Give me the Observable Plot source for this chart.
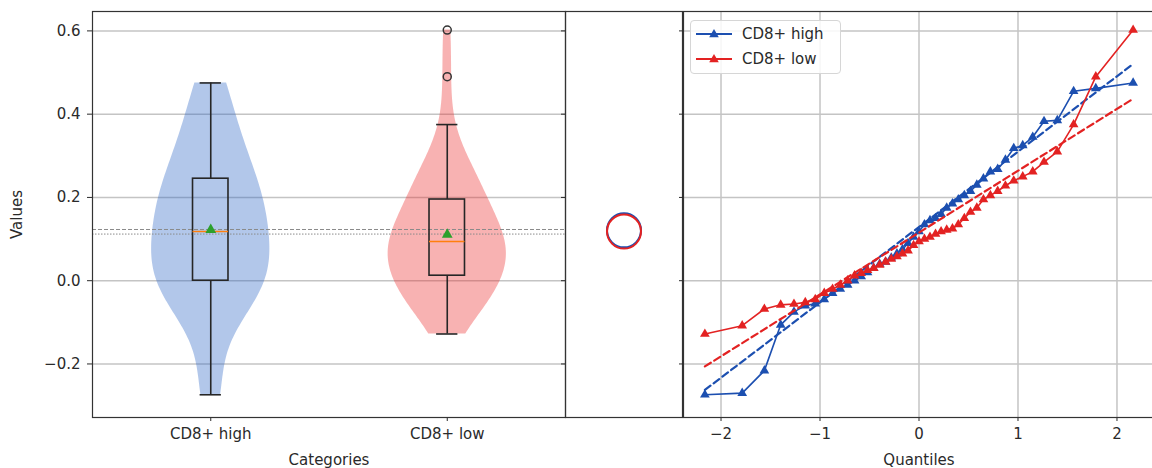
<!DOCTYPE html>
<html>
<head>
<meta charset="utf-8">
<script src="https://cdn.jsdelivr.net/npm/d3@7"></script>
<script src="https://cdn.jsdelivr.net/npm/@observablehq/plot@0.6"></script>
<style>
  body { margin: 0; background: #fff; font-family: "DejaVu Sans", sans-serif; }
  #wrap { position: relative; width: 1152px; height: 468px; overflow: hidden; background: #fff; }
  .legend { position: absolute; left: 690px; top: 20px; width: 149px; height: 52px;
    border: 1px solid #d6d6d6; border-radius: 4px; background: rgba(255,255,255,0.85);
    font-family: "DejaVu Sans", sans-serif; font-size: 15px; color: #2a2a2a; }
  .legend .row { position: absolute; left: 4px; height: 20px; display: flex; align-items: center; }
  .legend .row span { margin-left: 9px; }
</style>
</head>
<body>
<div id="wrap"></div>
<script>
// ---------- data ----------
const categories = ["CD8+ high", "CD8+ low"];
const quantiles = [-2.163, -1.786, -1.562, -1.397, -1.263, -1.149, -1.048, -0.957, -0.873, -0.795, -0.721,
  -0.651, -0.584, -0.520, -0.458, -0.397, -0.338, -0.280, -0.223, -0.167, -0.111, -0.055, 0,
  0.055, 0.111, 0.167, 0.223, 0.280, 0.338, 0.397, 0.458, 0.520, 0.584, 0.651, 0.721, 0.795,
  0.873, 0.957, 1.048, 1.149, 1.263, 1.397, 1.562, 1.786, 2.163];
const cd8High = [-0.274, -0.270, -0.216, -0.106, -0.075, -0.060, -0.055, -0.045, -0.030, -0.020, -0.010,
  0.000, 0.010, 0.020, 0.030, 0.040, 0.045, 0.055, 0.065, 0.075, 0.090, 0.105,
  0.118, 0.135, 0.145, 0.150, 0.160, 0.175, 0.185, 0.195, 0.205, 0.215, 0.230, 0.245,
  0.262, 0.268, 0.290, 0.318, 0.325, 0.345, 0.383, 0.385, 0.455, 0.462, 0.475];
const cd8Low = [-0.128, -0.108, -0.068, -0.058, -0.056, -0.052, -0.045, -0.030, -0.020, -0.010,
  0.000, 0.012, 0.018, 0.025, 0.030, 0.038, 0.045, 0.052, 0.058, 0.065, 0.072, 0.085,
  0.094, 0.100, 0.105, 0.112, 0.118, 0.122, 0.125, 0.135, 0.150, 0.165, 0.175, 0.195, 0.205,
  0.215, 0.228, 0.240, 0.250, 0.262, 0.285, 0.310, 0.375, 0.490, 0.602];
const meanLineValues = [0.123, 0.112];
const circleValues = [0.121, 0.118];
const fitSlope = [0.181, 0.1486];
const fitIntercept = [0.129, 0.1155];
const yTicks = [-0.2, 0, 0.2, 0.4, 0.6];
const yTickLabels = ["\u22120.2", "0.0", "0.2", "0.4", "0.6"];
const qTicks = [-2, -1, 0, 1, 2];
const qTickLabels = ["\u22122", "\u22121", "0", "1", "2"];
const seriesColors = ["#1c4fb0", "#e32222"];
const violinColors = ["#2a64c4", "#ec2a2a"];
const yDomain = [-0.3286, 0.6466];

// ---------- derived ----------
const groups = [cd8High, cd8Low];
const stats = groups.map((vals, i) => {
  const s = vals.slice().sort(d3.ascending);
  const q1 = d3.quantile(s, 0.25), med = d3.quantile(s, 0.5), q3 = d3.quantile(s, 0.75);
  const iqr = q3 - q1;
  const lo = d3.min(s.filter(v => v >= q1 - 1.5 * iqr));
  const hi = d3.max(s.filter(v => v <= q3 + 1.5 * iqr));
  return {cat: categories[i], pos: i + 1, q1, med, q3, lo, hi, mean: d3.mean(s),
          meanLine: meanLineValues[i], circle: circleValues[i],
          outliers: s.filter(v => v < lo || v > hi)};
});
const outlierRows = stats.flatMap(s => s.outliers.map(v => ({pos: s.pos, v})));

function violin(vals, pos) {
  const bw = d3.deviation(vals) * Math.pow(vals.length, -0.2);
  const [lo, hi] = d3.extent(vals);
  const N = 160;
  const rows = d3.range(N).map(k => {
    const y = lo + (hi - lo) * k / (N - 1);
    return {y, d: d3.sum(vals, v => Math.exp(-0.5 * ((y - v) / bw) ** 2))};
  });
  const m = d3.max(rows, r => r.d);
  return rows.map(r => ({y: r.y, x1: pos - 0.25 * r.d / m, x2: pos + 0.25 * r.d / m}));
}
const violins = groups.map((g, i) => violin(g, i + 1));

const qqRows = groups.map((g, i) => g.map((v, k) => ({q: quantiles[k], v})));
const qExt = d3.extent(quantiles);
const fitRows = fitSlope.map((s, i) => qExt.map(q => ({q, v: fitIntercept[i] + s * q})));

// ---------- layout ----------
const wrap = document.getElementById("wrap");
const style = {fontFamily: "'DejaVu Sans', sans-serif", fontSize: "15px", color: "#2a2a2a",
               background: "transparent", overflow: "visible"};
function place(el, left) {
  el.style.position = "absolute"; el.style.left = left + "px"; el.style.top = "0px";
  wrap.appendChild(el);
}
const gridStyle = {stroke: "#c4c4c4", strokeOpacity: 1, strokeWidth: 1.5};
const boxStroke = {stroke: "#262626", strokeWidth: 1.6};

// Panel 1: violins + boxes
const p1 = Plot.plot({
  width: 565, height: 468, marginLeft: 92, marginRight: 0, marginTop: 11, marginBottom: 51,
  style,
  x: {domain: [0.5, 2.5]},
  y: {domain: yDomain},
  marks: [
    Plot.gridY(yTicks, gridStyle),
    ...violins.map((v, i) => Plot.areaX(v, {y: "y", x1: "x1", x2: "x2", fill: violinColors[i], fillOpacity: 0.36})),
    Plot.ruleY([stats[0]], {y: "meanLine", stroke: "#8a8a8a", strokeWidth: 1, strokeDasharray: "4,2"}),
    Plot.ruleY([stats[1]], {y: "meanLine", stroke: "#8a8a8a", strokeWidth: 1, strokeDasharray: "1.5,1.5"}),
    Plot.rect(stats, {x1: d => d.pos - 0.075, x2: d => d.pos + 0.075, y1: "q1", y2: "q3", fill: "none", ...boxStroke}),
    Plot.ruleX(stats, {x: "pos", y1: "q3", y2: "hi", ...boxStroke}),
    Plot.ruleX(stats, {x: "pos", y1: "lo", y2: "q1", ...boxStroke}),
    Plot.ruleY(stats, {y: "hi", x1: d => d.pos - 0.045, x2: d => d.pos + 0.045, ...boxStroke}),
    Plot.ruleY(stats, {y: "lo", x1: d => d.pos - 0.045, x2: d => d.pos + 0.045, ...boxStroke}),
    Plot.ruleY(stats, {y: "med", x1: d => d.pos - 0.075, x2: d => d.pos + 0.075, stroke: "#ff7f0e", strokeWidth: 1.6}),
    Plot.dot(stats, {x: "pos", y: "mean", symbol: "triangle", fill: "#2ca02c", r: 4}),
    Plot.dot(outlierRows, {x: "pos", y: "v", r: 4, fill: "none", stroke: "#333", strokeWidth: 1.5}),
    Plot.axisY(yTicks, {tickFormat: d => yTickLabels[yTicks.indexOf(d)], tickSize: 5, tickPadding: 7,
      label: "Values", labelAnchor: "center", labelArrow: "none", labelOffset: 81}),
    Plot.axisX([1, 2], {tickFormat: d => categories[d - 1], tickSize: 4, tickPadding: 7,
      label: "Categories", labelAnchor: "center", labelArrow: "none", labelOffset: 47}),
    Plot.frame({stroke: "#333", strokeWidth: 1.2})
  ]
});
place(p1, 0);

// Panel 2: circles
const p2 = Plot.plot({
  width: 127, height: 468, marginLeft: 10, marginRight: 0, marginTop: 11, marginBottom: 51,
  style,
  x: {domain: [-1, 1], axis: null},
  y: {domain: yDomain},
  marks: [
    Plot.dot(stats, {x: () => 0, y: "circle", r: 17, fill: "none", stroke: d => seriesColors[d.pos - 1], strokeWidth: 2}),
    Plot.axisY(yTicks, {tickFormat: () => "", tickSize: 4, label: null}),
    Plot.frame({stroke: "#333", strokeWidth: 1.2})
  ]
});
place(p2, 555);

// Panel 3: QQ plot
const p3marks = [
  Plot.gridX(qTicks, gridStyle),
  Plot.gridY(yTicks, gridStyle)
];
qqRows.forEach((rows, i) => {
  p3marks.push(Plot.line(rows, {x: "q", y: "v", stroke: seriesColors[i], strokeWidth: 1.6}));
  p3marks.push(Plot.dot(rows, {x: "q", y: "v", symbol: "triangle", fill: seriesColors[i], r: 3.6}));
  p3marks.push(Plot.line(fitRows[i], {x: "q", y: "v", stroke: seriesColors[i], strokeWidth: 2.2, strokeDasharray: "7,4"}));
});
p3marks.push(
  Plot.axisX(qTicks, {tickFormat: d => qTickLabels[qTicks.indexOf(d)], tickSize: 4, tickPadding: 7,
    label: "Quantiles", labelAnchor: "center", labelArrow: "none", labelOffset: 47}),
  Plot.axisY(yTicks, {tickFormat: () => "", tickSize: 4, label: null}),
  Plot.frame({stroke: "#333", strokeWidth: 1.2})
);
const p3 = Plot.plot({
  width: 481, height: 468, marginLeft: 10, marginRight: 0, marginTop: 11, marginBottom: 51,
  style,
  x: {domain: [-2.379, 2.379]},
  y: {domain: yDomain},
  marks: p3marks
});
place(p3, 673);

// Legend
const legend = document.createElement("div");
legend.className = "legend";
categories.forEach((c, i) => {
  const row = document.createElement("div");
  row.className = "row";
  row.style.top = (3 + i * 25) + "px";
  row.innerHTML = `<svg width="38" height="14"><line x1="1" y1="7" x2="37" y2="7" stroke="${seriesColors[i]}" stroke-width="1.8"/>` +
    `<path d="${d3.symbol(d3.symbolTriangle, 40)()}" transform="translate(19,7.5)" fill="${seriesColors[i]}"/></svg><span>${c}</span>`;
  legend.appendChild(row);
});
wrap.appendChild(legend);
</script>
</body>
</html>
